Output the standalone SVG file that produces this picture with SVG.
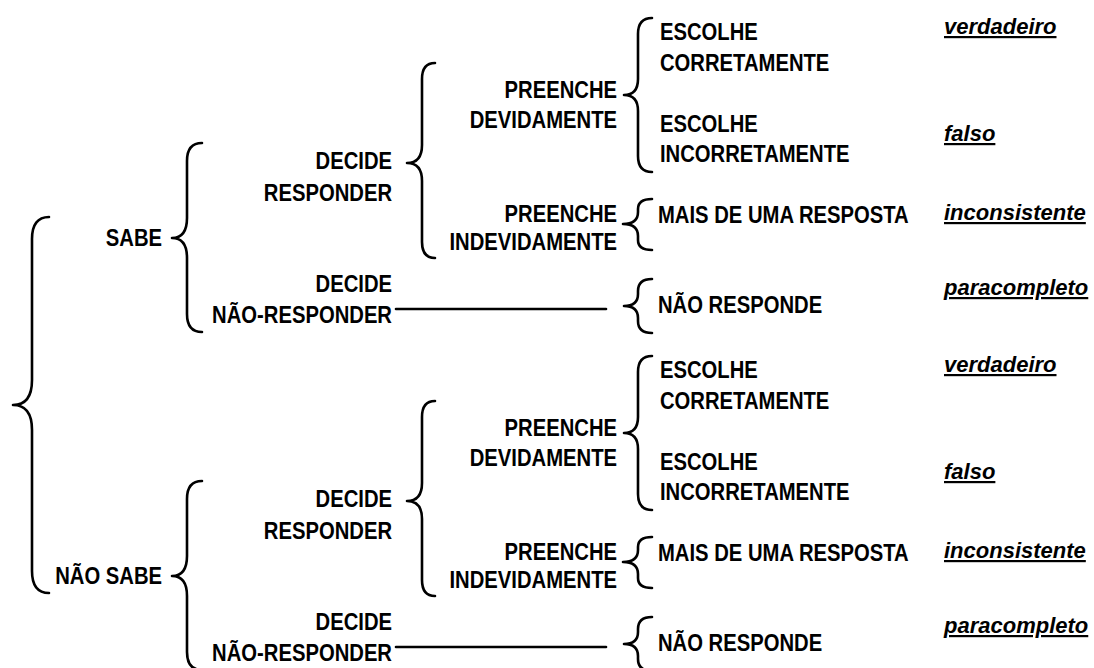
<svg xmlns="http://www.w3.org/2000/svg" width="1094" height="668" viewBox="0 0 1094 668">
<style>
.b{font-family:"Liberation Sans",Arial,sans-serif;font-size:23px;font-weight:bold;fill:#000}
.e{text-anchor:end}
.i{font-family:"Liberation Sans",Arial,sans-serif;font-size:22px;font-weight:bold;font-style:italic;text-decoration:underline;fill:#000}
.br{fill:none;stroke:#000;stroke-width:2.6;stroke-linecap:round;stroke-linejoin:round}
</style>
<rect width="1094" height="668" fill="#fff"/>
<g id="connectors">
<path class="br" d="M49,217 Q32,217 32,239 L32,380 Q32,405 13,405 Q32,405 32,430 L32,571 Q32,593 49,593"/>
<g id="conn-top">
<path class="br" d="M202,143 Q187,143 187,161 L187,218 Q187,238 172,238 Q187,238 187,258 L187,314 Q187,332 202,332"/>
<path class="br" d="M435,63 Q422,63 422,79 L422,145 Q422,163 407,163 Q422,163 422,181 L422,242 Q422,258 435,258"/>
<path class="br" d="M652,18 Q638,18 638,34 L638,79 Q638,95 624,95 Q638,95 638,111 L638,156 Q638,172 652,172"/>
<path class="br" d="M652,199 Q638,199 638,209 L638,212 Q638,224 623,224 Q638,224 638,236 L638,240 Q638,250 652,250"/>
<path class="br" d="M652,279 Q638,279 638,291 L638,294 Q638,306 624,306 Q638,306 638,318 L638,321 Q638,333 652,333"/>
<path class="br" d="M396,309 L606,309"/>
</g>
<g id="conn-bottom" transform="translate(0,338)">
<path class="br" d="M202,143 Q187,143 187,161 L187,218 Q187,238 172,238 Q187,238 187,258 L187,314 Q187,332 202,332"/>
<path class="br" d="M435,63 Q422,63 422,79 L422,145 Q422,163 407,163 Q422,163 422,181 L422,242 Q422,258 435,258"/>
<path class="br" d="M652,18 Q638,18 638,34 L638,79 Q638,95 624,95 Q638,95 638,111 L638,156 Q638,172 652,172"/>
<path class="br" d="M652,199 Q638,199 638,209 L638,212 Q638,224 623,224 Q638,224 638,236 L638,240 Q638,250 652,250"/>
<path class="br" d="M652,279 Q638,279 638,291 L638,294 Q638,306 624,306 Q638,306 638,318 L638,321 Q638,333 652,333"/>
<path class="br" d="M396,309 L606,309"/>
</g>
</g>
<g id="top">
<g id="sabe"><text class="b e" transform="translate(162,246) scale(0.88,1)">SABE</text></g>
<g id="decide-responder-1"><text class="b e" transform="translate(392,169) scale(0.88,1)"><tspan x="0">DECIDE</tspan><tspan x="0" dy="32">RESPONDER</tspan></text></g>
<g id="decide-nao-responder-1"><text class="b e" transform="translate(392,292) scale(0.88,1)"><tspan x="0">DECIDE</tspan><tspan x="0" dy="31">NÃO-RESPONDER</tspan></text></g>
<g id="preenche-dev-1"><text class="b e" transform="translate(617,98) scale(0.88,1)"><tspan x="0">PREENCHE</tspan><tspan x="0" dy="30">DEVIDAMENTE</tspan></text></g>
<g id="preenche-indev-1"><text class="b e" transform="translate(617,222) scale(0.88,1)"><tspan x="0">PREENCHE</tspan><tspan x="0" dy="28">INDEVIDAMENTE</tspan></text></g>
<g id="escolhe-corr-1"><text class="b" transform="translate(660,40) scale(0.88,1)"><tspan x="0">ESCOLHE</tspan><tspan x="0" dy="31">CORRETAMENTE</tspan></text></g>
<g id="escolhe-incorr-1"><text class="b" transform="translate(660,132) scale(0.88,1)"><tspan x="0">ESCOLHE</tspan><tspan x="0" dy="30">INCORRETAMENTE</tspan></text></g>
<g id="mais-1"><text class="b" transform="translate(658,223) scale(0.88,1)">MAIS DE UMA RESPOSTA</text></g>
<g id="nao-responde-1"><text class="b" transform="translate(658,313) scale(0.88,1)">NÃO RESPONDE</text></g>
<g id="verdadeiro-1"><text class="i" x="944" y="34">verdadeiro</text></g>
<g id="falso-1"><text class="i" x="944" y="141">falso</text></g>
<g id="inconsistente-1"><text class="i" x="944" y="220">inconsistente</text></g>
<g id="paracompleto-1"><text class="i" x="944" y="295">paracompleto</text></g>
</g>
<g id="bottom" transform="translate(0,338)">
<g id="nao-sabe"><text class="b e" transform="translate(162,246) scale(0.88,1)">NÃO SABE</text></g>
<g id="decide-responder-2"><text class="b e" transform="translate(392,169) scale(0.88,1)"><tspan x="0">DECIDE</tspan><tspan x="0" dy="32">RESPONDER</tspan></text></g>
<g id="decide-nao-responder-2"><text class="b e" transform="translate(392,292) scale(0.88,1)"><tspan x="0">DECIDE</tspan><tspan x="0" dy="31">NÃO-RESPONDER</tspan></text></g>
<g id="preenche-dev-2"><text class="b e" transform="translate(617,98) scale(0.88,1)"><tspan x="0">PREENCHE</tspan><tspan x="0" dy="30">DEVIDAMENTE</tspan></text></g>
<g id="preenche-indev-2"><text class="b e" transform="translate(617,222) scale(0.88,1)"><tspan x="0">PREENCHE</tspan><tspan x="0" dy="28">INDEVIDAMENTE</tspan></text></g>
<g id="escolhe-corr-2"><text class="b" transform="translate(660,40) scale(0.88,1)"><tspan x="0">ESCOLHE</tspan><tspan x="0" dy="31">CORRETAMENTE</tspan></text></g>
<g id="escolhe-incorr-2"><text class="b" transform="translate(660,132) scale(0.88,1)"><tspan x="0">ESCOLHE</tspan><tspan x="0" dy="30">INCORRETAMENTE</tspan></text></g>
<g id="mais-2"><text class="b" transform="translate(658,223) scale(0.88,1)">MAIS DE UMA RESPOSTA</text></g>
<g id="nao-responde-2"><text class="b" transform="translate(658,313) scale(0.88,1)">NÃO RESPONDE</text></g>
<g id="verdadeiro-2"><text class="i" x="944" y="34">verdadeiro</text></g>
<g id="falso-2"><text class="i" x="944" y="141">falso</text></g>
<g id="inconsistente-2"><text class="i" x="944" y="220">inconsistente</text></g>
<g id="paracompleto-2"><text class="i" x="944" y="295">paracompleto</text></g>
</g>
</svg>
